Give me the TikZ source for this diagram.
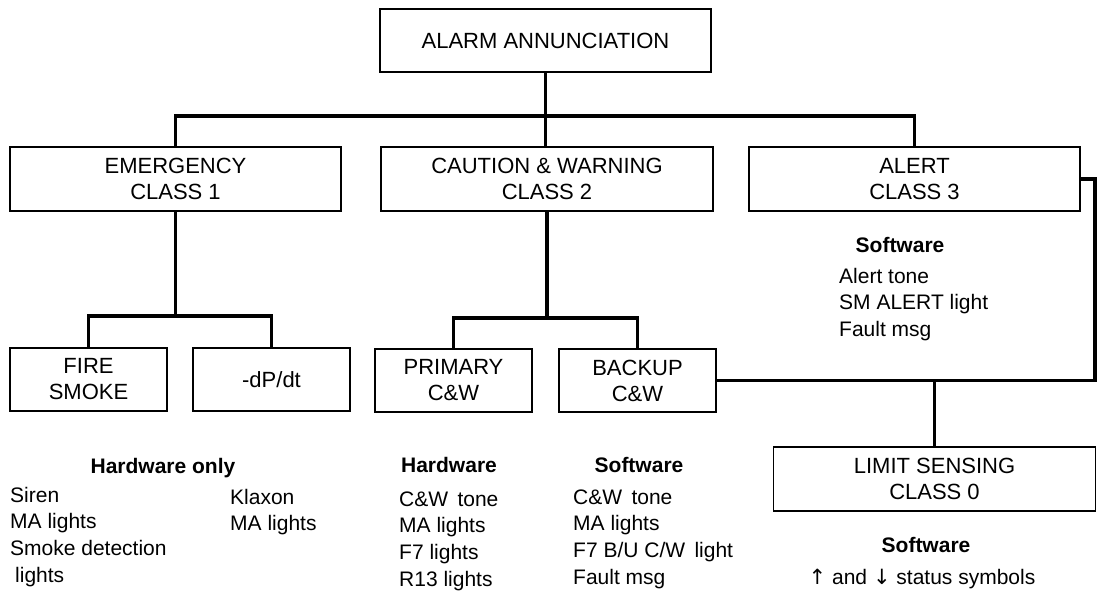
\documentclass[tikz,border=0pt]{standalone}
\usepackage{fontspec}
\setmainfont{Liberation Sans}
\newfontfamily\arrowfont{DejaVu Sans}
\tikzset{
  box/.style={draw=black, line width=1.6pt, minimum height=63pt, align=center, inner sep=0pt,
    font=\fontsize{22}{26}\selectfont},
  conn/.style={draw=black, line width=3.2pt},
  txt/.style={align=left, inner sep=0pt, anchor=base west, font=\fontsize{21}{26.8}\selectfont},
  head/.style={inner sep=0pt, anchor=base, font=\bfseries\fontsize{21}{24}\selectfont},
}
\begin{document}
\begin{tikzpicture}[x=1pt,y=-1pt]
\useasboundingbox (0,0) rectangle (1097,590);
% boxes
\node[box, minimum width=331pt] (top) at (545.5,40.5) {ALARM ANNUNCIATION};
\node[box, minimum width=331pt, minimum height=64pt] (emg) at (175.5,179) {EMERGENCY\\CLASS 1};
\node[box, minimum width=332pt, minimum height=64pt] (cw) at (547,179) {CAUTION \& WARNING\\CLASS 2};
\node[box, minimum width=331pt, minimum height=64pt] (alert) at (914.5,179) {ALERT\\CLASS 3};
\node[box, minimum width=157pt] (fire) at (88.5,379.5) {FIRE\\SMOKE};
\node[box, minimum width=157pt] (dpdt) at (271.5,379.5) {-dP/dt};
\node[box, minimum width=157pt] (prim) at (453.5,380.5) {PRIMARY\\C\&W};
\node[box, minimum width=157pt] (back) at (637.5,380.5) {BACKUP\\C\&W};
\node[box, minimum width=322pt, minimum height=64pt] (limit) at (934.5,479) {LIMIT SENSING\\CLASS 0};
% bus coordinates
\coordinate (b1) at (545.5,116);
\coordinate (b2) at (175.5,316);
\coordinate (b3) at (547,318);
\coordinate (rt) at (1095,179);
% connectors
\draw[conn] (top.south) -- (b1);
\draw[conn] (b1) -- (b1 |- cw.north);
\draw[conn] (emg.north) |- (b1) -| (alert.north);
\draw[conn] (emg.south) -- (b2);
\draw[conn] (fire.north) |- (b2) -| (dpdt.north);
\draw[conn] (cw.south) -- (b3);
\draw[conn] (prim.north) |- (b3) -| (back.north);
\draw[conn] (back.east) -| (rt) -- (alert.east);
\draw[conn] (limit.north) -- (limit.north |- back.east);
% alert text (anchor = baseline of last line)
\node[head] (sw1) at (900,252) {Software};
\node[txt] (l1) at (839,336.6) {Alert tone\\SM ALERT light\\Fault msg};
% emergency text
\node[head] (hw1) at (163,473) {Hardware only};
\node[txt] (l2) at (10,582.4) {Siren\\MA lights\\Smoke detection\\\hspace*{5pt}lights};
\node[txt] (l3) at (230,530.8) {Klaxon\\MA lights};
% C&W text
\node[head] (hw2) at (449,472) {Hardware};
\node[txt] (l4) at (399,586.4) {C\&W\, tone\\MA lights\\F7 lights\\R13 lights};
\node[head] (sw2) at (639,472) {Software};
\node[txt] (l5) at (573,584.4) {C\&W\, tone\\MA lights\\F7 B/U C/W\, light\\Fault msg};
% limit text
\node[head] (sw3) at (926,552) {Software};
\node[txt, anchor=base] (l6) at (922,584) {{\arrowfont ↑} and {\arrowfont ↓} status symbols};
\end{tikzpicture}
\end{document}
